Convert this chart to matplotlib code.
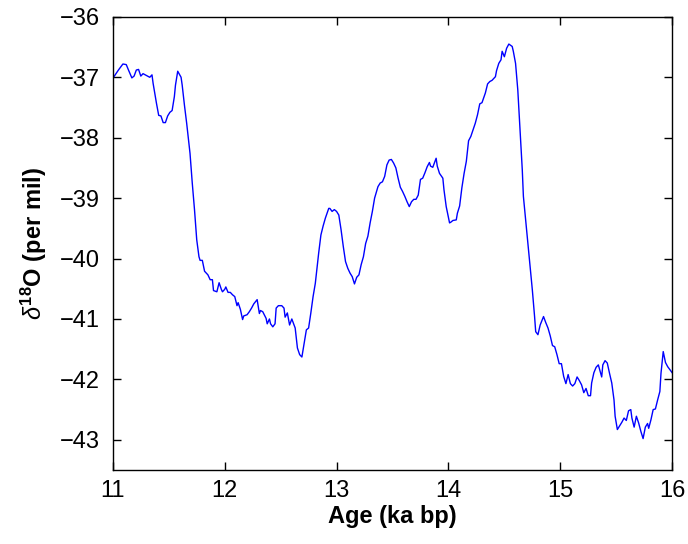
import matplotlib
matplotlib.use("Agg")
import matplotlib.pyplot as plt
from matplotlib.ticker import MultipleLocator

plt.rcParams['font.family'] = ['Liberation Sans', 'DejaVu Sans']
plt.rcParams['mathtext.fontset'] = 'custom'
plt.rcParams['mathtext.rm'] = 'Liberation Sans'
plt.rcParams['mathtext.it'] = 'Liberation Sans:italic'
plt.rcParams['mathtext.bf'] = 'Liberation Sans:bold'

age = [11.01, 11.05, 11.09, 11.12, 11.14, 11.17, 11.19, 11.21, 11.23, 11.25, 11.27, 11.29,
       11.32, 11.33, 11.35, 11.36, 11.39, 11.41, 11.43, 11.45, 11.47, 11.49, 11.51, 11.53,
       11.55, 11.56, 11.58, 11.61, 11.62, 11.64, 11.66, 11.69, 11.71, 11.73, 11.75, 11.77,
       11.78, 11.80, 11.82, 11.85, 11.87, 11.89, 11.90, 11.93, 11.95, 11.97, 11.98, 12.00,
       12.01, 12.03, 12.05, 12.07, 12.09, 12.11, 12.12, 12.14, 12.16, 12.17, 12.20, 12.22,
       12.24, 12.26, 12.29, 12.31, 12.32, 12.34, 12.37, 12.38, 12.40, 12.41, 12.43, 12.45,
       12.46, 12.48, 12.51, 12.53, 12.54, 12.56, 12.58, 12.60, 12.63, 12.65, 12.67, 12.69,
       12.71, 12.73, 12.75, 12.77, 12.79, 12.81, 12.82, 12.84, 12.86, 12.88, 12.90, 12.93,
       12.94, 12.96, 12.98, 13.00, 13.02, 13.04, 13.06, 13.08, 13.10, 13.12, 13.14, 13.16,
       13.18, 13.20, 13.22, 13.24, 13.26, 13.28, 13.30, 13.32, 13.34, 13.37, 13.39, 13.41,
       13.43, 13.45, 13.47, 13.49, 13.51, 13.53, 13.55, 13.57, 13.59, 13.61, 13.63, 13.65,
       13.67, 13.69, 13.71, 13.73, 13.75, 13.77, 13.79, 13.81, 13.83, 13.84, 13.86, 13.89,
       13.90, 13.92, 13.95, 13.96, 13.98, 14.01, 14.02, 14.04, 14.07, 14.08, 14.10, 14.12,
       14.14, 14.16, 14.18, 14.20, 14.22, 14.24, 14.26, 14.28, 14.30, 14.33, 14.35, 14.37,
       14.39, 14.42, 14.43, 14.45, 14.47, 14.48, 14.50, 14.52, 14.54, 14.57, 14.58, 14.60,
       14.62, 14.64, 14.66, 14.67, 14.69, 14.71, 14.73, 14.75, 14.77, 14.78, 14.80, 14.82,
       14.85, 14.87, 14.89, 14.91, 14.93, 14.95, 14.97, 14.99, 15.01, 15.03, 15.05, 15.07,
       15.09, 15.11, 15.13, 15.15, 15.17, 15.19, 15.21, 15.23, 15.25, 15.27, 15.28, 15.30,
       15.32, 15.34, 15.37, 15.38, 15.40, 15.42, 15.44, 15.46, 15.48, 15.49, 15.51, 15.53,
       15.55, 15.57, 15.59, 15.61, 15.63, 15.64, 15.66, 15.68, 15.70, 15.72, 15.74, 15.76,
       15.78, 15.79, 15.81, 15.83, 15.85, 15.87, 15.89, 15.90, 15.92, 15.94, 15.96, 15.98,
       16.00]

d18o = [-36.99, -36.88, -36.78, -36.79, -36.88, -37.01, -36.98, -36.88, -36.87, -36.98, -36.94, -36.96,
        -36.99, -37.00, -36.96, -37.10, -37.43, -37.63, -37.64, -37.75, -37.75, -37.64, -37.58, -37.55,
        -37.32, -37.13, -36.90, -37.00, -37.13, -37.46, -37.76, -38.26, -38.75, -39.19, -39.69, -39.97,
        -40.03, -40.03, -40.21, -40.27, -40.35, -40.35, -40.53, -40.55, -40.40, -40.51, -40.55, -40.51,
        -40.47, -40.56, -40.56, -40.60, -40.63, -40.78, -40.73, -40.84, -41.01, -40.95, -40.93, -40.88,
        -40.82, -40.75, -40.68, -40.91, -40.86, -40.88, -40.99, -41.08, -41.00, -41.08, -41.13, -41.08,
        -40.82, -40.78, -40.78, -40.82, -40.97, -40.90, -41.10, -41.00, -41.15, -41.48, -41.59, -41.63,
        -41.40, -41.18, -41.15, -40.90, -40.63, -40.41, -40.24, -39.91, -39.61, -39.46, -39.33, -39.17,
        -39.17, -39.22, -39.19, -39.22, -39.28, -39.52, -39.80, -40.05, -40.16, -40.24, -40.30, -40.42,
        -40.31, -40.27, -40.10, -39.97, -39.75, -39.63, -39.41, -39.22, -39.00, -38.81, -38.75, -38.73,
        -38.64, -38.45, -38.37, -38.36, -38.42, -38.50, -38.67, -38.82, -38.89, -38.97, -39.06, -39.14,
        -39.06, -39.02, -39.02, -38.95, -38.69, -38.67, -38.58, -38.48, -38.41, -38.47, -38.49, -38.34,
        -38.47, -38.59, -38.67, -38.86, -39.14, -39.41, -39.40, -39.37, -39.36, -39.25, -39.13, -38.83,
        -38.59, -38.39, -38.05, -37.98, -37.87, -37.76, -37.62, -37.44, -37.42, -37.26, -37.11, -37.07,
        -37.05, -36.99, -36.89, -36.77, -36.71, -36.57, -36.66, -36.52, -36.45, -36.49, -36.57, -36.77,
        -37.21, -37.87, -38.53, -38.97, -39.36, -39.75, -40.13, -40.52, -40.96, -41.21, -41.26, -41.10,
        -40.96, -41.06, -41.15, -41.28, -41.44, -41.46, -41.59, -41.74, -41.74, -41.95, -42.07, -41.92,
        -42.07, -42.11, -42.07, -41.96, -42.02, -42.09, -42.22, -42.15, -42.27, -42.27, -42.06, -41.89,
        -41.80, -41.76, -41.96, -41.76, -41.69, -41.73, -41.90, -42.06, -42.34, -42.61, -42.83, -42.77,
        -42.71, -42.64, -42.68, -42.52, -42.50, -42.64, -42.79, -42.61, -42.72, -42.86, -42.98, -42.79,
        -42.73, -42.81, -42.67, -42.50, -42.49, -42.34, -42.20, -41.90, -41.54, -41.72, -41.79, -41.84,
        -41.89]

fig = plt.figure(figsize=(6.88, 5.44), dpi=100)
ax = fig.add_axes([0.164, 0.136, 0.813, 0.833])
ax.plot(age, d18o, color='#0000ff', linewidth=1.0)
ax.set_xlim(11, 16)
ax.set_ylim(-43.5, -36)
ax.xaxis.set_major_locator(MultipleLocator(1))
ax.yaxis.set_major_locator(MultipleLocator(1))
ax.tick_params(direction='in', length=6, width=1, top=True, right=True, labelsize=17)
ax.tick_params(axis='y', pad=9)
ax.tick_params(axis='x', pad=7)
for s in ax.spines.values():
    s.set_linewidth(1.0)
ax.set_xlabel('Age (ka bp)', fontsize=17, fontweight='bold', labelpad=2)
ax.set_ylabel(r'$\delta^{\mathbf{18}}$O (per mil)', fontsize=17, fontweight='bold', labelpad=8)
fig.savefig('out.png', dpi=100)
